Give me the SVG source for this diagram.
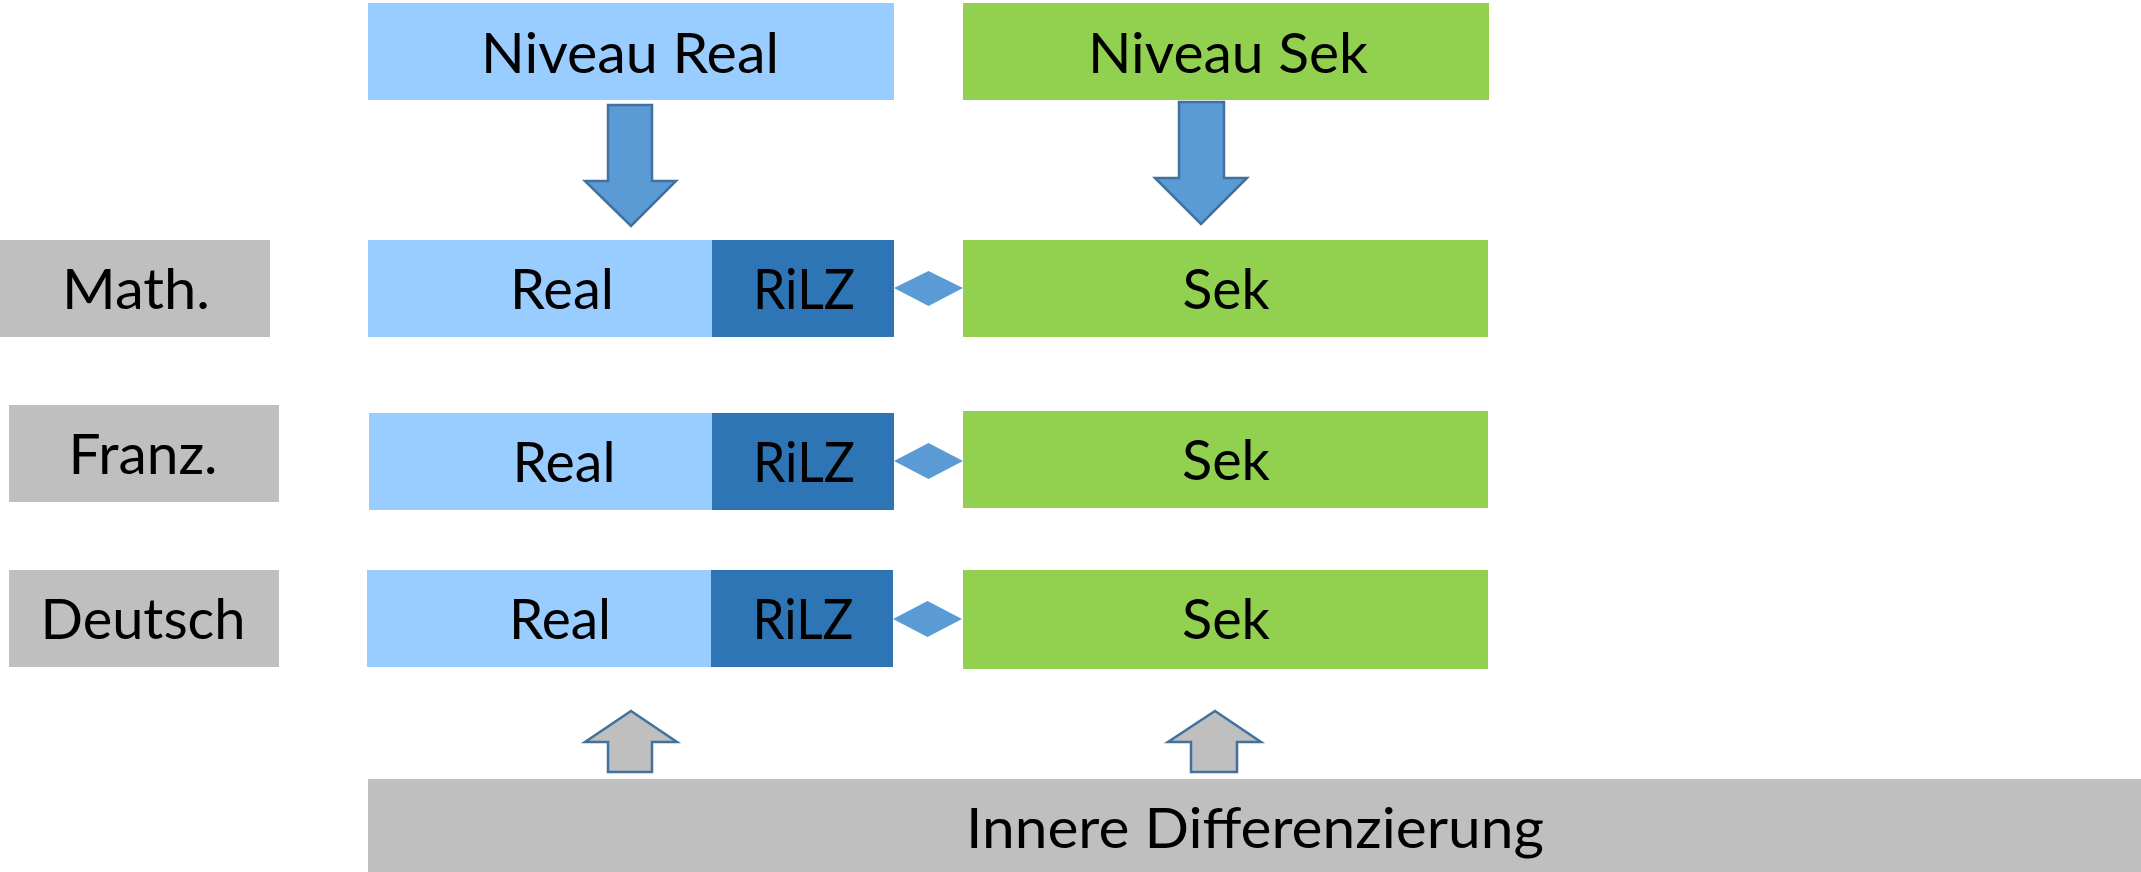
<svg xmlns="http://www.w3.org/2000/svg" width="2141" height="872" viewBox="0 0 2141 872">
<style>
.t{font-family:Lato,"Liberation Sans",Arial,sans-serif;font-size:57px;fill:#000;text-anchor:middle}
.lb{fill:#99CCFF}
.db{fill:#2E75B6}
.gr{fill:#92D050}
.gy{fill:#BFBFBF}
.ad{fill:#5B9BD5;stroke:#41719C;stroke-width:2.5}
.au{fill:#BFBFBF;stroke:#41719C;stroke-width:2.5}
.dm{fill:#5B9BD5}
</style>
<rect width="2141" height="872" fill="#FFFFFF"/>
<g id="niveau-real"><rect class="lb" x="368" y="3" width="526" height="97"/><text class="t" x="630" y="73" textLength="298" lengthAdjust="spacingAndGlyphs">Niveau Real</text></g>
<g id="niveau-sek"><rect class="gr" x="963" y="3" width="526" height="97"/><text class="t" x="1228" y="73" textLength="280" lengthAdjust="spacingAndGlyphs">Niveau Sek</text></g>

<g id="math"><rect class="gy" x="0" y="240" width="270" height="97"/><text class="t" x="136" y="309" textLength="148" lengthAdjust="spacingAndGlyphs">Math.</text></g>
<g id="real-1"><rect class="lb" x="368" y="240" width="344" height="97"/><text class="t" x="562" y="309" textLength="104" lengthAdjust="spacingAndGlyphs">Real</text></g>
<g id="rilz-1"><rect class="db" x="712" y="240" width="182" height="97"/><text class="t" x="804" y="309" textLength="102" lengthAdjust="spacingAndGlyphs">RiLZ</text></g>
<g id="sek-1"><rect class="gr" x="963" y="240" width="525" height="97"/><text class="t" x="1226" y="309" textLength="87" lengthAdjust="spacingAndGlyphs">Sek</text></g>

<g id="franz"><rect class="gy" x="9" y="405" width="270" height="97"/><text class="t" x="143" y="474" textLength="149" lengthAdjust="spacingAndGlyphs">Franz.</text></g>
<g id="real-2"><rect class="lb" x="369" y="413" width="343" height="97"/><text class="t" x="564" y="482" textLength="103" lengthAdjust="spacingAndGlyphs">Real</text></g>
<g id="rilz-2"><rect class="db" x="712" y="413" width="182" height="97"/><text class="t" x="804" y="482" textLength="102" lengthAdjust="spacingAndGlyphs">RiLZ</text></g>
<g id="sek-2"><rect class="gr" x="963" y="411" width="525" height="97"/><text class="t" x="1226" y="480" textLength="88" lengthAdjust="spacingAndGlyphs">Sek</text></g>

<g id="deutsch"><rect class="gy" x="9" y="570" width="270" height="97"/><text class="t" x="143" y="639" textLength="205" lengthAdjust="spacingAndGlyphs">Deutsch</text></g>
<g id="real-3"><rect class="lb" x="367" y="570" width="344" height="97"/><text class="t" x="560" y="639" textLength="102" lengthAdjust="spacingAndGlyphs">Real</text></g>
<g id="rilz-3"><rect class="db" x="711" y="570" width="182" height="97"/><text class="t" x="803" y="639" textLength="101" lengthAdjust="spacingAndGlyphs">RiLZ</text></g>
<g id="sek-3"><rect class="gr" x="963" y="570" width="525" height="99"/><text class="t" x="1226" y="639" textLength="88" lengthAdjust="spacingAndGlyphs">Sek</text></g>

<g id="innere"><rect class="gy" x="368" y="779" width="1773" height="93"/><text class="t" x="1255" y="848" textLength="578" lengthAdjust="spacingAndGlyphs">Innere Differenzierung</text></g>

<g id="connectors">
<polygon class="ad" points="608,105 652,105 652,181 676,181 631,226 585,181 608,181"/>
<polygon class="ad" points="1179,102 1224,102 1224,178 1247,178 1201,224 1155,178 1179,178"/>
<polygon class="au" points="631,711 677,742 652,742 652,772 608,772 608,742 585,742"/>
<polygon class="au" points="1215,711 1261,742 1237,742 1237,772 1191,772 1191,742 1168,742"/>
<polygon class="dm" points="894,288 928.5,271 963,288 928.5,306"/>
<polygon class="dm" points="894,461 928.5,443 963,461 928.5,479"/>
<polygon class="dm" points="893,619 927.5,601 962,619 927.5,637"/>
</g>
</svg>
